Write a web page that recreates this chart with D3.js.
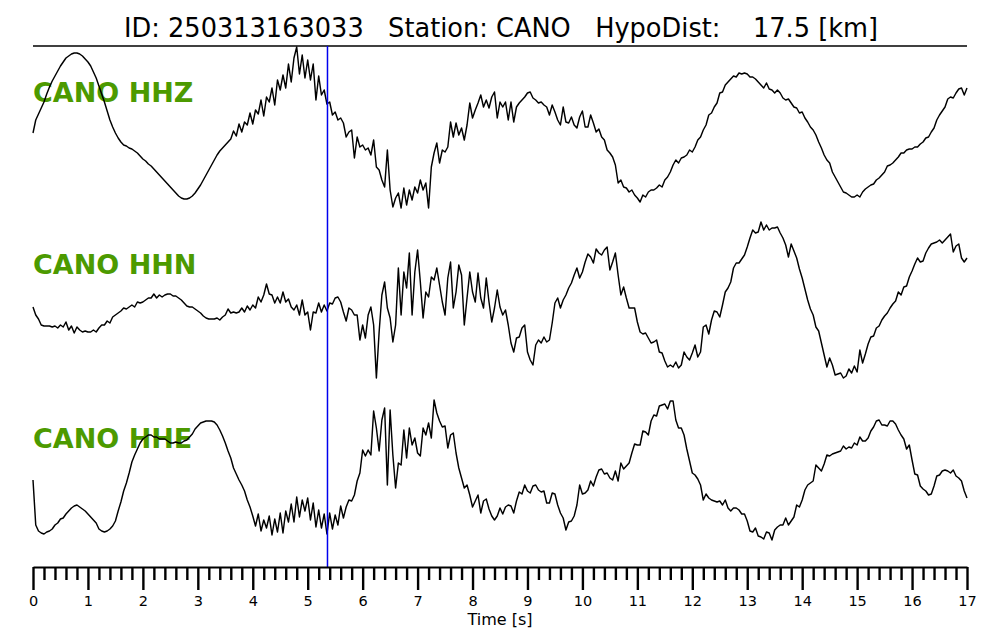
<!DOCTYPE html>
<html>
<head>
<meta charset="utf-8">
<script src="https://cdn.jsdelivr.net/npm/d3@7"></script>
<style>
  html, body { margin: 0; padding: 0; background: #ffffff; }
  svg { display: block; }
  text { font-family: "DejaVu Sans", sans-serif; }
</style>
</head>
<body>
<script>
// ---------------- data ----------------
const eventId = "250313163033";
const station = "CANO";
const hypoDist = 17.5;
const channels = ["HHZ", "HHN", "HHE"];
const dt = 0.05;           // seconds between samples
const pickTime = 5.36;     // blue marker (s)
const majorTicks = [0, 1, 2, 3, 4, 5, 6, 7, 8, 9, 10, 11, 12, 13, 14, 15, 16, 17];
const tickLabels = ["0", "1", "2", "3", "4", "5", "6", "7", "8", "9", "10", "11", "12", "13", "14", "15", "16", "17"];
const minorStep = 0.2;

// amplitudes (arbitrary units), one sample every dt seconds, 0 .. 17 s
const hhz = [
  -3, 10, 16, 22, 28, 36, 43, 49, 54, 59, 64, 68, 72, 74, 76, 77, 77, 76, 74, 71,
  68, 64, 58, 52, 44, 36, 28, 19, 10, 3, -3, -8, -12, -15, -16, -18, -19, -21, -23, -26,
  -29, -31, -34, -36, -39, -42, -45, -48, -51, -54, -57, -60, -63, -66, -68, -69, -69, -68, -66, -63,
  -59, -55, -50, -45, -40, -35, -30, -25, -21, -18, -15, -12, -9, -1, -6, 6, -2, 8, 5, 17,
  6, 20, 16, 30, 14, 33, 28, 42, 25, 50, 40, 55, 42, 66, 48, 72, 83, 56, 75, 52,
  70, 50, 66, 30, 54, 35, 40, 26, 28, 15, 18, 10, 12, 7, -7, -2, 0, -28, -7, -17,
  -15, -20, -18, -25, -10, -37, -40, -50, -57, -20, -60, -77, -68, -63, -78, -58, -75, -60, -70, -57,
  -63, -50, -60, -53, -78, -37, -23, -13, -33, -20, -22, -17, 8, -7, 7, -5, 2, -10, 5, 27,
  12, 20, 27, 35, 23, 30, 22, 33, 38, 12, 28, 23, 28, 10, 28, 8, 23, 27, 30, 33,
  37, 38, 32, 30, 27, 28, 25, 23, 15, 25, 18, 10, 5, 23, 8, 7, 13, 5, 2, 13,
  19, 3, 3, 15, 7, -2, 1, -7, -10, -20, -23, -27, -35, -53, -50, -57, -58, -62, -60, -65,
  -68, -72, -65, -67, -62, -60, -60, -58, -55, -57, -50, -47, -42, -35, -30, -33, -28, -27, -25, -20,
  -22, -17, -10, -7, 0, 5, 15, 17, 23, 27, 37, 38, 45, 48, 51, 54, 53, 57, 56, 57,
  56, 53, 53, 51, 48, 45, 42, 47, 41, 40, 37, 40, 37, 32, 30, 31, 27, 23, 22, 17,
  18, 12, 8, 3, 0, -5, -12, -18, -25, -30, -33, -42, -47, -52, -57, -62, -63, -65, -67, -67,
  -65, -67, -62, -59, -57, -55, -54, -50, -48, -45, -42, -36, -35, -33, -30, -27, -23, -23, -20, -19,
  -19, -17, -17, -14, -12, -8, -7, -2, 2, 10, 15, 19, 23, 31, 33, 32, 37, 41, 42, 35,
  42
];
const hhn = [
  -6, -14, -18, -24, -25, -25, -25, -26, -25, -27, -24, -26, -21, -29, -25, -32, -26, -29, -31, -30,
  -31, -31, -29, -31, -27, -24, -24, -20, -22, -16, -14, -12, -10, -7, -8, -6, -4, -6, -1, -2,
  -1, 1, 3, 3, 7, 3, 6, 4, 6, 7, 7, 5, 5, 3, 1, -2, -5, -6, -6, -8,
  -10, -12, -15, -17, -18, -18, -18, -17, -19, -16, -14, -8, -12, -11, -12, -11, -7, -11, -5, -9,
  -4, -7, 4, -1, 6, 17, 7, 6, -2, 4, -2, 9, -1, 2, -6, -9, -4, -14, 1, -14,
  -11, -29, -11, -12, -2, -11, -4, -10, -2, -3, 3, 4, -1, -11, -20, -7, -9, -14, -14, -39,
  -24, -37, -14, -6, -24, -77, -31, 6, 19, -7, -17, -41, -24, 33, -14, 29, 13, 48, -14, 29,
  51, 19, -17, 9, 4, 24, 21, 33, 16, -1, -14, 23, 39, -7, 9, 36, 26, -24, 3, 29,
  9, -1, 28, 3, -7, 23, -1, -21, -7, 11, -6, -14, -9, -24, -42, -51, -37, -36, -27, -24,
  -51, -59, -64, -44, -39, -42, -36, -41, -39, -22, -2, 3, -7, 1, 6, 13, 18, 26, 33, 23,
  29, 39, 47, 44, 38, 52, 48, 46, 51, 54, 31, 39, 48, 26, 6, 14, 3, -7, -7, -7,
  -21, -31, -33, -32, -37, -42, -41, -39, -51, -52, -60, -66, -64, -66, -61, -67, -64, -51, -56, -59,
  -52, -44, -56, -51, -26, -24, -33, -19, -10, -11, -16, -4, 9, 13, 19, 33, 38, 38, 42, 46,
  54, 63, 71, 68, 69, 79, 71, 76, 71, 73, 73, 74, 68, 63, 56, 44, 57, 50, 43, 32,
  23, 12, 1, -8, -14, -26, -30, -42, -54, -66, -57, -64, -74, -73, -72, -77, -75, -68, -72, -65,
  -71, -49, -62, -53, -43, -36, -35, -27, -25, -19, -15, -12, -7, -3, 0, 9, 6, 14, 15, 24,
  30, 37, 43, 39, 40, 48, 53, 57, 58, 59, 61, 58, 61, 64, 67, 49, 55, 57, 43, 39,
  43
];
const hhe = [
  -10, -55, -61, -63, -64, -62, -61, -59, -55, -53, -49, -48, -44, -41, -38, -36, -35, -37, -39, -41,
  -44, -47, -50, -53, -59, -61, -62, -61, -59, -56, -51, -41, -32, -21, -13, -3, 8, 15, 21, 27,
  31, 33, 35, 35, 33, 33, 31, 31, 31, 29, 27, 27, 28, 27, 27, 29, 30, 33, 36, 41,
  44, 47, 48, 49, 49, 49, 48, 45, 40, 34, 27, 19, 12, 2, -4, -10, -15, -21, -30, -37,
  -46, -56, -44, -61, -50, -58, -46, -65, -49, -62, -43, -63, -41, -52, -34, -52, -27, -47, -30, -41,
  -28, -50, -33, -57, -40, -58, -44, -64, -43, -59, -45, -55, -36, -48, -37, -30, -31, -25, -11, -3,
  20, 14, 20, 15, 59, 42, 19, 50, 62, -15, 60, 15, -18, 7, 5, 40, 12, 42, 25, 32,
  17, 14, 42, 35, 47, 32, 70, 57, 49, 43, 44, 22, 35, 37, 17, 2, -8, -18, -15, -25,
  -37, -31, -25, -43, -31, -29, -39, -46, -50, -46, -38, -44, -37, -35, -36, -43, -31, -22, -24, -15,
  -21, -23, -16, -15, -20, -22, -21, -33, -33, -23, -24, -35, -43, -48, -60, -52, -51, -46, -35, -15,
  -24, -23, -20, -11, -16, -7, 0, 1, -4, -3, -8, -10, -1, -11, 7, 1, 4, 7, 17, 26,
  25, 25, 39, 38, 35, 49, 55, 54, 64, 65, 66, 61, 69, 69, 50, 42, 42, 35, 21, 9,
  -3, -5, -9, -15, -30, -24, -28, -30, -31, -32, -31, -35, -30, -38, -41, -38, -38, -40, -44, -44,
  -51, -61, -62, -58, -66, -67, -69, -62, -63, -70, -60, -57, -55, -55, -48, -55, -51, -47, -35, -37,
  -30, -20, -15, -13, -11, 5, 2, -1, 6, 15, 14, 16, 17, 18, 19, 24, 21, 23, 22, 27,
  25, 33, 29, 29, 32, 39, 43, 49, 50, 45, 45, 44, 49, 49, 46, 40, 35, 31, 21, 25,
  10, -4, -5, -16, -19, -21, -25, -24, -16, -6, -5, -1, 0, -1, -3, 0, -6, -8, -11, -21,
  -28
];
const traces = [hhz, hhn, hhe];

// ---------------- layout ----------------
const W = 1000, H = 640;
const left = 33, right = 967;
const titleLineY = 46, axisY = 567;
const laneCenter = { HHZ: 130, HHN: 301, HHE: 470 };
const labelBaseline = { HHZ: 102, HHN: 274, HHE: 448 };
const green = "#4c9a00";

const svg = d3.select("body").append("svg")
  .attr("width", W).attr("height", H)
  .attr("viewBox", `0 0 ${W} ${H}`);

svg.append("rect").attr("width", W).attr("height", H).attr("fill", "#ffffff");

const x = d3.scaleLinear().domain([0, 17]).range([left, right]);

// title
svg.append("text")
  .attr("x", (left + right) / 2 + 1).attr("y", 37)
  .attr("text-anchor", "middle")
  .style("white-space", "pre")
  .attr("font-size", 26)
  .attr("textLength", 754)
  .attr("lengthAdjust", "spacingAndGlyphs")
  .attr("fill", "#000")
  .text(`ID: ${eventId}   Station: ${station}   HypoDist:    ${hypoDist.toFixed(1)} [km]`);

svg.append("line")
  .attr("x1", left).attr("x2", right)
  .attr("y1", titleLineY).attr("y2", titleLineY)
  .attr("stroke", "#000").attr("stroke-width", 1.6);

// channel labels
channels.forEach(ch => {
  svg.append("text")
    .attr("x", left).attr("y", labelBaseline[ch])
    .attr("font-size", 27).attr("font-weight", "bold")
    .attr("fill", green)
    .text(`${station} ${ch}`);
});

// traces
channels.forEach((ch, k) => {
  const c = laneCenter[ch];
  const y = d3.scaleLinear().domain([-100, 100]).range([c + 100, c - 100]);
  const line = d3.line()
    .x((d, i) => x(i * dt))
    .y(d => y(d));
  svg.append("path")
    .datum(traces[k])
    .attr("fill", "none")
    .attr("stroke", "#000")
    .attr("stroke-width", 1.45)
    .attr("stroke-linejoin", "round")
    .attr("d", line);
});

// pick marker
svg.append("line")
  .attr("x1", x(pickTime)).attr("x2", x(pickTime))
  .attr("y1", titleLineY).attr("y2", axisY)
  .attr("stroke", "#0000ee").attr("stroke-width", 1.5);

// axis: minor ticks
const minorVals = d3.range(0, 17 + 1e-9, minorStep).filter(v => Math.abs(v - Math.round(v)) > 1e-6);
const gMinor = svg.append("g").attr("transform", `translate(0,${axisY})`)
  .call(d3.axisBottom(x).tickValues(minorVals).tickSize(13).tickSizeOuter(0).tickFormat(""));
gMinor.select(".domain").remove();
gMinor.selectAll(".tick line").attr("stroke", "#000").attr("stroke-width", 2.4);

// axis: major ticks
const gMajor = svg.append("g").attr("transform", `translate(0,${axisY})`)
  .call(d3.axisBottom(x).tickValues(majorTicks).tickSize(23).tickSizeOuter(0).tickPadding(5.5)
    .tickFormat((d, i) => tickLabels[i]));
gMajor.select(".domain").attr("stroke", "#000").attr("stroke-width", 2.2);
gMajor.selectAll(".tick line").attr("stroke", "#000").attr("stroke-width", 2.4);
gMajor.selectAll(".tick text")
  .attr("font-family", "DejaVu Sans, sans-serif")
  .attr("font-size", 14.5)
  .attr("fill", "#000");

svg.append("text")
  .attr("x", (left + right) / 2).attr("y", 625)
  .attr("text-anchor", "middle")
  .attr("font-size", 16)
  .attr("fill", "#000")
  .text("Time [s]");
</script>
</body>
</html>
